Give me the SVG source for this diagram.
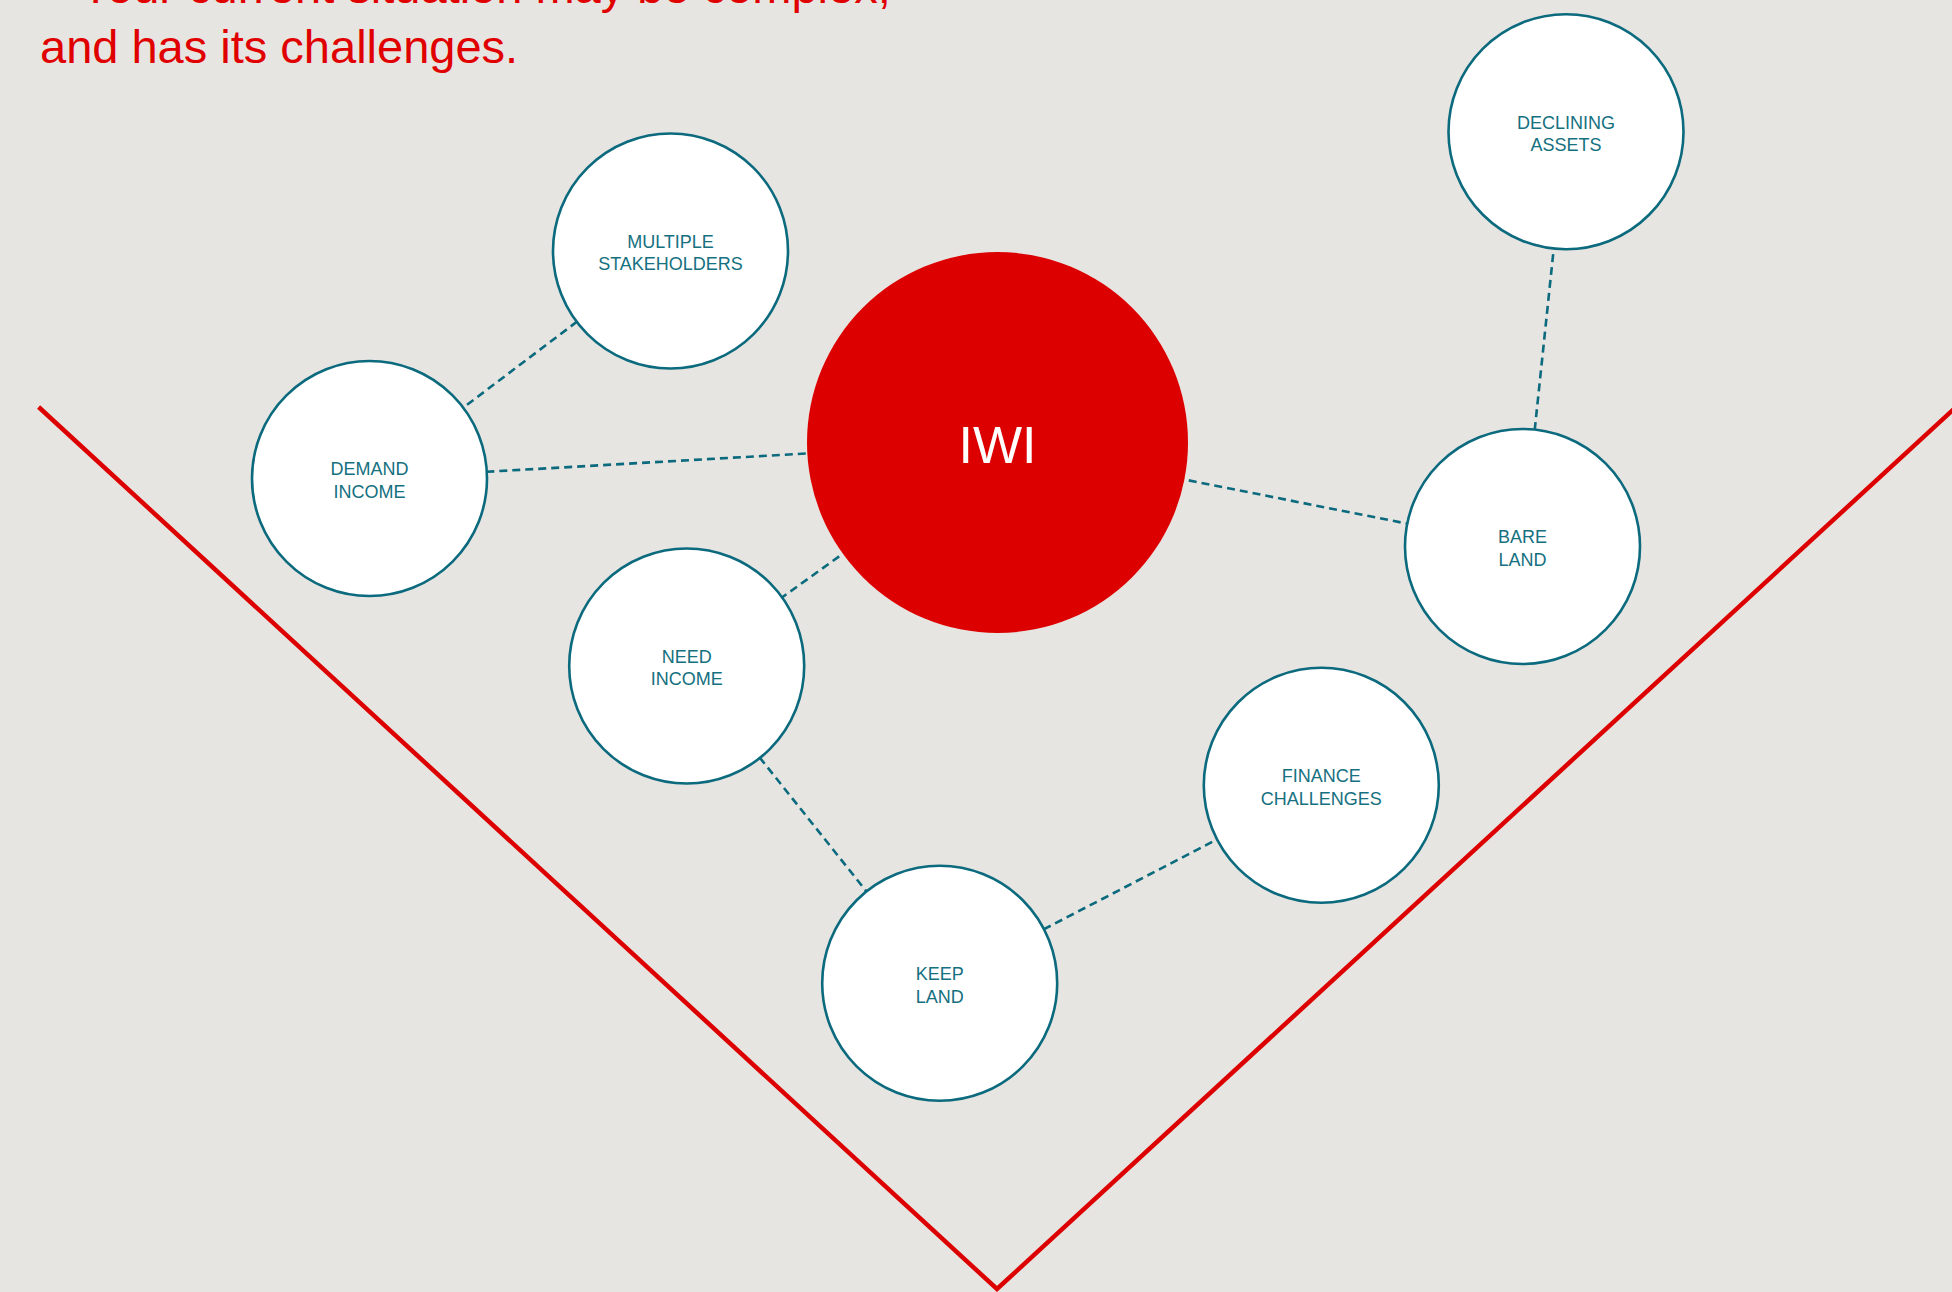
<svg xmlns="http://www.w3.org/2000/svg" width="1952" height="1292" viewBox="0 0 1952 1292">
  <style>
    .bg { fill: #e7e5e1; }
    .title { font-family: "Liberation Sans", Arial, sans-serif; font-size: 47px; fill: #e00000; }
    .node circle { fill: #ffffff; stroke: #0b6a7d; stroke-width: 2.6; }
    .node text { font-family: "Liberation Sans", Arial, sans-serif; font-size: 18px; fill: #15707f; text-anchor: middle; }
    .conn line { stroke: #0b6a7d; stroke-width: 2.6; stroke-dasharray: 8 5; fill: none; }
    .vee { stroke: #dd0000; stroke-width: 4.5; fill: none; }
  </style>
  <rect class="bg" x="0" y="0" width="1952" height="1292"/>

  <g id="title">
    <text class="title" x="80" y="3">Your current situation may be complex,</text>
    <text class="title" x="40" y="63">and has its challenges.</text>
  </g>

  <polyline class="vee" points="38.6,407 997,1289 1955,408"/>

  <g id="connectors" class="conn">
    <line x1="670.5" y1="251" x2="369.5" y2="478.5"/>
    <line x1="369.5" y1="478.5" x2="997.5" y2="442.5"/>
    <line x1="997.5" y1="442.5" x2="686.7" y2="666"/>
    <line x1="997.5" y1="442.5" x2="1522.5" y2="546.5"/>
    <line x1="1522.5" y1="546.5" x2="1566" y2="131.7"/>
    <line x1="686.7" y1="666" x2="939.7" y2="983.3"/>
    <line x1="939.7" y1="983.3" x2="1321.3" y2="785.3"/>
  </g>

  <g id="iwi">
    <circle cx="997.5" cy="442.5" r="190.5" fill="#dc0000"/>
    <text x="997.5" y="462.7" font-family="Liberation Sans, Arial, sans-serif" font-size="52" fill="#ffffff" text-anchor="middle">IWI</text>
  </g>

  <g id="multiple-stakeholders" class="node">
    <circle cx="670.5" cy="251" r="117.5"/>
    <text x="670.5" y="248">MULTIPLE</text>
    <text x="670.5" y="270">STAKEHOLDERS</text>
  </g>

  <g id="demand-income" class="node">
    <circle cx="369.5" cy="478.5" r="117.5"/>
    <text x="369.5" y="475">DEMAND</text>
    <text x="369.5" y="497.5">INCOME</text>
  </g>

  <g id="need-income" class="node">
    <circle cx="686.7" cy="666" r="117.5"/>
    <text x="686.7" y="662.5">NEED</text>
    <text x="686.7" y="685">INCOME</text>
  </g>

  <g id="keep-land" class="node">
    <circle cx="939.7" cy="983.3" r="117.5"/>
    <text x="939.7" y="980">KEEP</text>
    <text x="939.7" y="1002.5">LAND</text>
  </g>

  <g id="finance-challenges" class="node">
    <circle cx="1321.3" cy="785.3" r="117.5"/>
    <text x="1321.3" y="782">FINANCE</text>
    <text x="1321.3" y="804.5">CHALLENGES</text>
  </g>

  <g id="bare-land" class="node">
    <circle cx="1522.5" cy="546.5" r="117.5"/>
    <text x="1522.5" y="543">BARE</text>
    <text x="1522.5" y="565.5">LAND</text>
  </g>

  <g id="declining-assets" class="node">
    <circle cx="1566" cy="131.7" r="117.5"/>
    <text x="1566" y="128.5">DECLINING</text>
    <text x="1566" y="150.5">ASSETS</text>
  </g>
</svg>
